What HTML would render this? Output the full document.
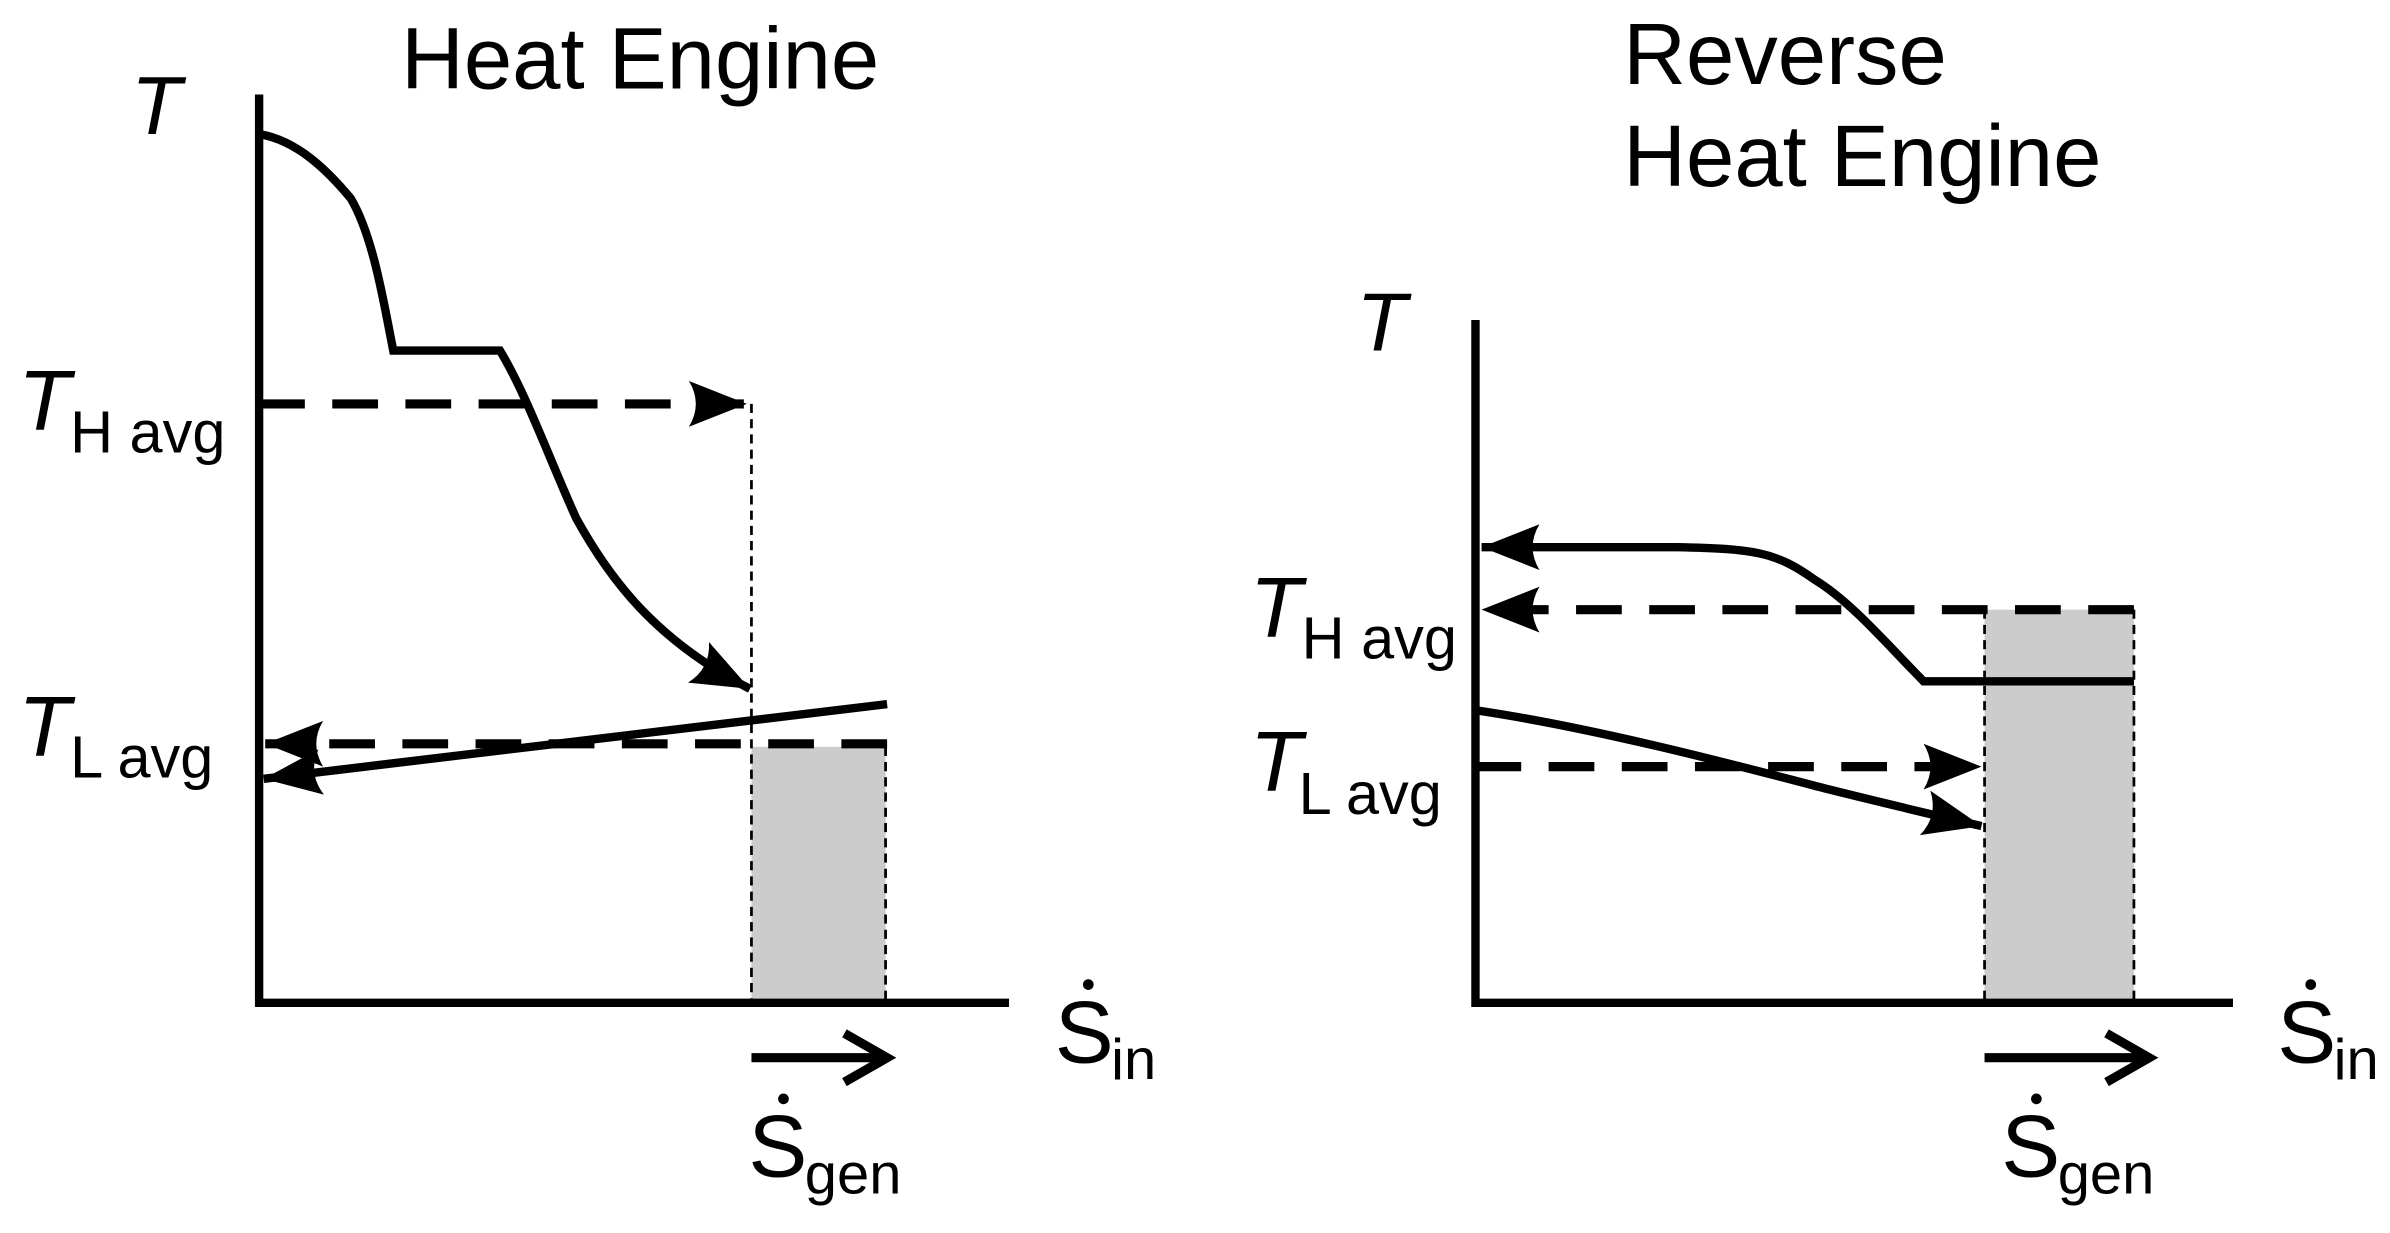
<!DOCTYPE html>
<html><head><meta charset="utf-8"><style>
html,body{margin:0;padding:0;background:#fff;width:2390px;height:1233px;overflow:hidden}
svg{display:block}
text{font-family:"Liberation Sans",Arial,sans-serif;fill:#000}
.it{font-style:italic}
</style></head><body>
<svg width="2390" height="1233" viewBox="0 0 1568 809" preserveAspectRatio="none" xmlns="http://www.w3.org/2000/svg">
<defs>
<marker id="ah" markerUnits="userSpaceOnUse" markerWidth="44" markerHeight="34" refX="38" refY="15" orient="auto" viewBox="0 0 44 34">
<path d="M0,0 L38,15 L0,30 Q9,15 0,0 Z" fill="#000"/>
</marker>
</defs>
<!-- LEFT -->
<text x="420" y="58" font-size="57" text-anchor="middle">Heat Engine</text>
<text x="86" y="88" font-size="54" class="it">T</text>
<text x="12" y="282" font-size="56" class="it">T</text><text x="46" y="297" font-size="39">H avg</text>
<text x="12" y="496" font-size="56" class="it">T</text><text x="46" y="510" font-size="39">L avg</text>
<rect x="493" y="490" width="88" height="168" fill="#cccccc"/>
<path d="M493,265 V658 M581,490 V658" stroke="#000" stroke-width="1.8" stroke-dasharray="6,4" fill="none"/>
<path d="M170,62 V658 H662" stroke="#000" stroke-width="5.5" fill="none"/>
<path d="M170,88 C195,92 215,112 230,130 C245,155 252,200 258,230 H328 C345,258 360,300 378,340 C400,380 430,420 492,452" stroke="#000" stroke-width="5.5" fill="none" marker-end="url(#ah)"/>
<path d="M170,265 H490" stroke="#000" stroke-width="6" stroke-dasharray="30,18" fill="none" marker-end="url(#ah)"/>
<path d="M582,488 H174" stroke="#000" stroke-width="6" stroke-dasharray="30,18" fill="none" marker-end="url(#ah)"/>
<path d="M582,462 L173,511" stroke="#000" stroke-width="5.5" fill="none" marker-end="url(#ah)"/>
<path d="M493,694 H580 M554,678 L582,694 L554,710" stroke="#000" stroke-width="6" fill="none"/>
<text x="692" y="697" font-size="58">S</text><circle cx="714" cy="646" r="3.5"/><text x="729" y="708" font-size="38">in</text>
<text x="491" y="772" font-size="58">S</text><circle cx="514" cy="721" r="3.5"/><text x="528" y="783" font-size="38">gen</text>
<!-- RIGHT -->
<text x="1065" y="55" font-size="57">Reverse</text>
<text x="1065" y="122" font-size="57">Heat Engine</text>
<text x="890" y="230" font-size="54" class="it">T</text>
<text x="820" y="418" font-size="56" class="it">T</text><text x="854" y="432" font-size="39">H avg</text>
<text x="820" y="519" font-size="56" class="it">T</text><text x="852" y="534" font-size="39">L avg</text>
<rect x="1302" y="400" width="98" height="258" fill="#cccccc"/>
<path d="M1302,400 V658 M1400,400 V658" stroke="#000" stroke-width="1.8" stroke-dasharray="6,4" fill="none"/>
<path d="M968,210 V658 H1465" stroke="#000" stroke-width="5.5" fill="none"/>
<path d="M1400,447 H1262 C1240,425 1215,395 1190,380 C1165,362 1150,360 1100,359 H972" stroke="#000" stroke-width="5.5" fill="none" marker-end="url(#ah)"/>
<path d="M1400,400 H972" stroke="#000" stroke-width="6" stroke-dasharray="30,18" fill="none" marker-end="url(#ah)"/>
<path d="M968,466 C1050,478 1150,505 1200,518 C1240,528 1270,535 1300,542" stroke="#000" stroke-width="5.5" fill="none" marker-end="url(#ah)"/>
<path d="M968,503 H1300" stroke="#000" stroke-width="6" stroke-dasharray="30,18" fill="none" marker-end="url(#ah)"/>
<path d="M1302,694 H1408 M1382,678 L1410,694 L1382,710" stroke="#000" stroke-width="6" fill="none"/>
<text x="1494" y="697" font-size="58">S</text><circle cx="1516" cy="646" r="3.5"/><text x="1531" y="708" font-size="38">in</text>
<text x="1313" y="772" font-size="58">S</text><circle cx="1336" cy="721" r="3.5"/><text x="1350" y="783" font-size="38">gen</text>
</svg>
</body></html>
